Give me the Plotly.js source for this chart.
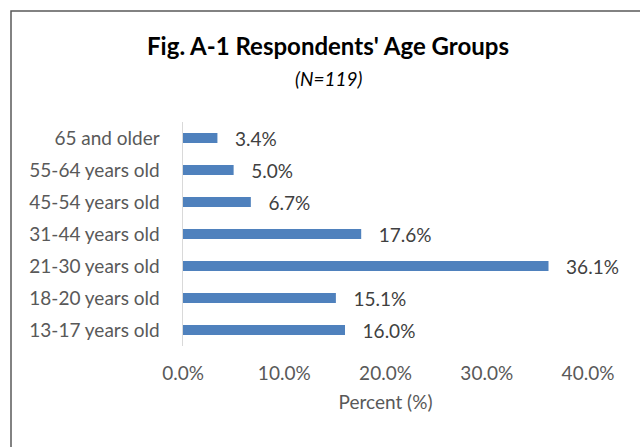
<!DOCTYPE html>
<html>
<head>
<meta charset="utf-8">
<script src="https://cdn.plot.ly/plotly-3.0.1.min.js"></script>
<style>html,body{margin:0;padding:0;background:#fff;}#chart{width:640px;height:447px;}</style>
</head>
<body>
<div id="chart"></div>
<script>
const categories = ["13-17 years old", "18-20 years old", "21-30 years old", "31-44 years old", "45-54 years old", "55-64 years old", "65 and older"];
const percents = [16.0, 15.1, 36.1, 17.6, 6.7, 5.0, 3.4];
const tickValues = [0, 10, 20, 30, 40];
const tickLabels = ["0.0%", "10.0%", "20.0%", "30.0%", "40.0%"];

const L = 183, R = 52, T = 122, B = 101;
const W = 640, H = 447;
const pw = W - L - R, ph = H - T - B;

const trace = {
  type: 'bar',
  orientation: 'h',
  y: categories,
  x: percents,
  width: 0.32,
  marker: {color: '#4f81bd'},
  text: percents.map(v => '\u00a0\u00a0\u00a0' + v.toFixed(1) + '%'),
  textposition: 'outside',
  constraintext: 'none',
  cliponaxis: false,
  textfont: {family: 'Lato, sans-serif', size: 19, color: '#404040'},
  hoverinfo: 'none'
};

const layout = {
  width: W, height: H,
  margin: {l: L, r: R, t: T, b: B},
  paper_bgcolor: '#fff', plot_bgcolor: '#fff',
  font: {family: 'Lato, sans-serif', color: '#595959', size: 19},
  showlegend: false,
  title: {
    text: "<b>Fig. A-1 Respondents' Age Groups</b>",
    font: {family: 'Lato, sans-serif', size: 24, color: '#000'},
    x: 328 / W, xanchor: 'center', xref: 'container',
    y: 1 - 47 / H, yanchor: 'middle', yref: 'container'
  },
  annotations: [{
    text: '<i>(N=119)</i>',
    xref: 'paper', yref: 'paper',
    x: (328 - L) / pw, y: (H - B - 78) / ph, xanchor: 'center', yanchor: 'middle',
    showarrow: false,
    font: {family: 'Lato, sans-serif', size: 19, color: '#000'}
  }],
  xaxis: {
    range: [0, 40],
    tickvals: tickValues,
    ticktext: tickLabels,
    showgrid: false, zeroline: false, showline: false,
    ticks: '',
    ticklabelstandoff: 14,
    tickfont: {size: 19, color: '#595959'},
    title: {text: 'Percent (%)', font: {size: 19, color: '#595959'}, standoff: 12},
    fixedrange: true
  },
  yaxis: {
    showgrid: false, zeroline: false,
    showline: true, linecolor: '#d9d9d9', linewidth: 1.5,
    ticks: '',
    ticklabelstandoff: 18,
    tickfont: {size: 19, color: '#595959'},
    range: [-0.5, 6.5],
    fixedrange: true
  },
  shapes: [{
    type: 'rect', xref: 'paper', yref: 'paper',
    x0: (11 - L) / pw, x1: 1.6,
    y0: -1, y1: (H - B - 11) / ph,
    line: {color: '#595959', width: 1.5},
    fillcolor: 'rgba(0,0,0,0)',
    layer: 'below'
  }]
};

Plotly.newPlot('chart', [trace], layout, {staticPlot: true, displayModeBar: false});
</script>
</body>
</html>
